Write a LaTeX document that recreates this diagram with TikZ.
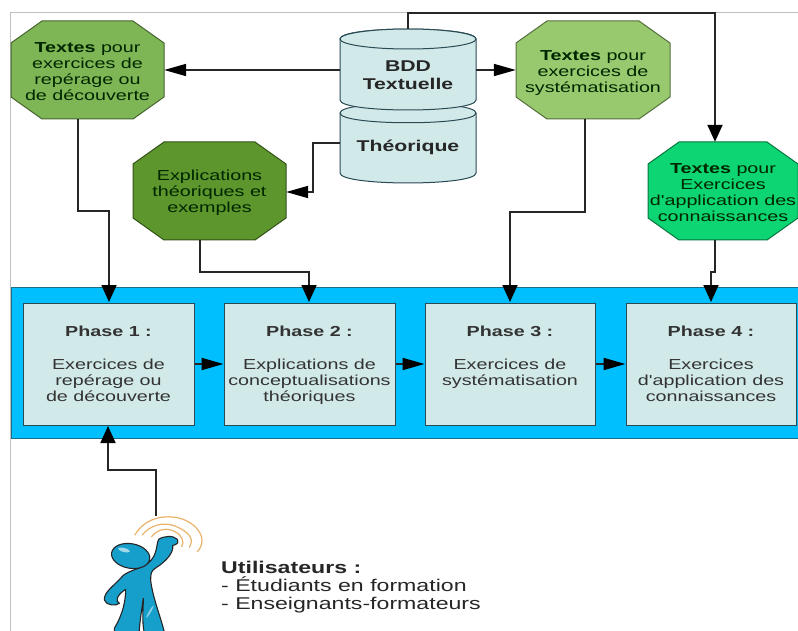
\documentclass[tikz,border=0pt]{standalone}
\usepackage{fontspec}
\setmainfont[FakeStretch=1.36]{Liberation Sans}
\newfontfamily\straightfont[FakeStretch=1.36]{Liberation Sans}
\newcommand\ap{{\straightfont'}}
\newcommand\lift[1]{\rule{0pt}{#1pt}}
\usetikzlibrary{arrows.meta}
\definecolor{octA}{HTML}{7FB655}
\definecolor{octB}{HTML}{5C962C}
\definecolor{octC}{HTML}{99C96E}
\definecolor{octD}{HTML}{0ED573}
\definecolor{bandc}{HTML}{00BFFF}
\definecolor{boxc}{HTML}{D2E9E9}
\definecolor{edgec}{HTML}{2A4A55}
\definecolor{wave}{HTML}{E9B36B}
\definecolor{skin}{HTML}{169FCB}
\tikzset{
  x=1pt,y=-1pt,
  octbody/.style={draw=#1!55!black,fill=#1,line width=1pt,line join=round},
  octtext/.style={inner sep=0pt,minimum width=#1,minimum height=98pt,align=center,
    font=\fontsize{14.5}{16}\selectfont,text=black!85!green},
  phase/.style={draw=edgec,fill=boxc,line width=1pt,minimum width=171pt,minimum height=122pt,inner sep=0pt,
    align=center,font=\fontsize{14.5}{16.3}\selectfont,text=black!80},
  conn/.style={draw=black!85,line width=1.8pt},
  hflow/.style={conn,-{Triangle[length=22pt,width=12pt,color=black]}},
  vflow/.style={conn,-{Triangle[length=17pt,width=15pt,color=black]}},
  dblabel/.style={font=\bfseries\fontsize{15.6}{18}\selectfont,align=center,text=black!85},
  cyl/.style={fill=boxc,draw=edgec,line width=1pt},
  utext/.style={anchor=west,align=left,inner sep=0pt,text=black!85}
}
% name, colour, centre, half width, text
\newcommand\octanode[5]{%
  \begin{scope}[shift={(#3)}]
    \path[octbody=#2] (-#4+31,-49) -- (#4-31,-49) -- (#4,-27) -- (#4,27) -- (#4-31,49)
      -- (-#4+31,49) -- (-#4,27) -- (-#4,-27) -- cycle;
  \end{scope}
  \node[octtext=2*#4 pt] (#1) at (#3) {#5};}
\begin{document}
\begin{tikzpicture}
\useasboundingbox (0,0) rectangle (798,631);
\fill[white] (0,0) rectangle (798,631);
\draw[black!25,line width=.8pt] (10.5,631) -- (10.5,12.5) -- (798,12.5);
% band
\path[fill=bandc,draw=edgec!70!bandc,line width=.8pt] (11,287) rectangle (798,438);
% database
\path[cyl] (340,113) -- (340,173) .. controls (340,186.3) and (476,186.3) .. (476,173)
  -- (476,113) .. controls (476,100) and (340,100) .. (340,113) -- cycle;
\path[draw=edgec,line width=1pt] (340,113) .. controls (340,126) and (476,126) .. (476,113);
\path[cyl] (340,39) -- (340,100) .. controls (340,113.3) and (476,113.3) .. (476,100)
  -- (476,39) .. controls (476,25.7) and (340,25.7) .. (340,39) -- cycle;
\path[cyl] (408,39) ellipse[x radius=68pt,y radius=10pt];
\node[dblabel] (bdd) at (408,75) {BDD\\Textuelle};
\node[dblabel] (theo) at (408,147) {Théorique};
\coordinate (dbTop) at (408,29);
\coordinate (dbL) at (340,70);
\coordinate (dbR) at (476,70);
\coordinate (dbT) at (340,143);
% octagons
\octanode{t1}{octA}{87.5,70}{76.5}{\lift{12.5}\textbf{Textes} pour\\exercices de\\repérage ou\\de découverte}
\octanode{t2}{octB}{209.5,191}{76.5}{\lift{14.5}Explications\\théoriques et\\exemples}
\octanode{t3}{octC}{593,70}{77}{\lift{16.5}\textbf{Textes} pour\\exercices de\\systématisation}
\octanode{t4}{octD}{723,191}{75}{\lift{12.5}\textbf{Textes} pour\\Exercices\\d\ap application des\\connaissances}
% phases
\node[phase] (p1) at (108.5,364) {\lift{15.2}\textbf{Phase 1 :}\\[16pt]Exercices de\\repérage ou\\de découverte\strut};
\node[phase] (p2) at (309.5,364) {\lift{15.2}\textbf{Phase 2 :}\\[16pt]Explications de\\conceptualisations\\théoriques\strut};
\node[phase,minimum width=170pt] (p3) at (510,364) {\lift{15.2}\textbf{Phase 3 :}\\[16pt]Exercices de\\systématisation\\\strut};
\node[phase,minimum width=170pt] (p4) at (711,364) {\lift{15.2}\textbf{Phase 4 :}\\[16pt]Exercices\\d\ap application des\\connaissances\strut};
% connectors
\draw[hflow] (dbL) -- (t1.east |- dbL);
\draw[hflow] (dbR) -- (t3.west |- dbR);
\draw[hflow] (dbT) -- (313,143) -- (313,192) -- (t2.east |- 0,192);
\draw[vflow] (dbTop) -- (408,13) -- (715,13) -- (t4.north -| 715,0);
\draw[vflow] (t1.south -| 78,0) -- (78,211) -- (109,211) -- (109,302);
\draw[vflow] (t2.south -| 200,0) -- (200,272) -- (309,272) -- (309,302);
\draw[vflow] (t3.south -| 585,0) -- (585,212) -- (510,212) -- (510,302);
\draw[vflow] (t4.south -| 715,0) -- (715,272) -- (711,272) -- (711,302);
\draw[hflow] (p1.east) -- (p2.west);
\draw[hflow] (p2.east) -- (p3.west);
\draw[hflow] (p3.east) -- (p4.west);
% person
\coordinate (userTop) at (156,516);
\draw[vflow] (userTop) -- (156,470) -- (108,470) -- (108,426);
\begin{scope}[shift={(60,470)},x=.3333pt,y=-.3333pt]
  \clip (0,0) rectangle (600,483);
  \draw[wave,line width=1.2pt,line cap=round] (225,195) .. controls (250,150) and (300,135) .. (345,142) .. controls (405,150) and (450,205) .. (412,245);
  \draw[wave,line width=1.2pt,line cap=round] (247,195) .. controls (270,165) and (310,155) .. (345,168) .. controls (385,185) and (405,205) .. (388,232);
  \draw[wave,line width=1.2pt,line cap=round] (275,200) .. controls (290,180) and (320,170) .. (345,185) .. controls (365,195) and (375,215) .. (365,230);
  \fill[skin,draw=black!85,line width=1.1pt,line join=round]
    (352,208) .. controls (340,195) and (310,198) .. (296,208)
    .. controls (288,225) and (293,255) .. (266,278)
    .. controls (240,298) and (215,298) .. (190,316)
    .. controls (160,350) and (132,365) .. (133,390)
    .. controls (138,408) and (172,408) .. (178,400)
    .. controls (165,395) and (170,375) .. (197,358)
    .. controls (197,390) and (190,430) .. (163,475)
    -- (163,490) -- (237,490)
    .. controls (240,450) and (245,420) .. (250,385)
    .. controls (250,420) and (245,450) .. (253,490)
    -- (314,490) .. controls (302,440) and (277,380) .. (272,330)
    .. controls (272,310) and (274,302) .. (287,294)
    .. controls (322,272) and (342,245) .. (338,226)
    .. controls (348,226) and (358,218) .. (352,208) -- cycle;
  \fill[skin,draw=black!85,line width=1.1pt,rotate around={-10:(212,258)}] (212,258) ellipse[x radius=19.3pt,y radius=12.3pt];
  \fill[white,opacity=.6,rotate around={-15:(192,240)}] (192,240) ellipse[x radius=6pt,y radius=2pt];
  \fill[white,opacity=.5,rotate around={60:(270,425)}] (270,425) ellipse[x radius=7pt,y radius=1pt];
\end{scope}
\node[utext,font=\fontsize{17}{18}\selectfont] (users) at (221,587.5) {\textbf{Utilisateurs :}\\- Étudiants en formation\\- Enseignants-formateurs};
\end{tikzpicture}
\end{document}
